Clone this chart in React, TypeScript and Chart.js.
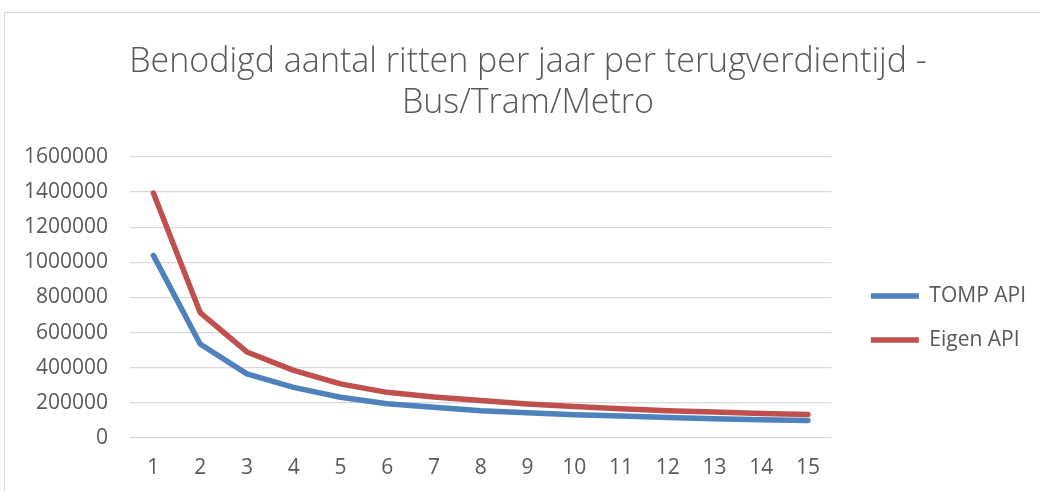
import React, { useEffect, useRef } from "react";
import { Chart, registerables } from "chart.js";

Chart.register(...registerables);

const categories = ["1", "2", "3", "4", "5", "6", "7", "8", "9", "10", "11", "12", "13", "14", "15"];
const tompApi = [1040000, 535000, 365000, 288000, 232000, 195000, 175000, 155000, 144000, 133000, 125000, 117000, 110000, 104000, 100000];
const eigenApi = [1395000, 714000, 490000, 385000, 308000, 260000, 233000, 213000, 194000, 180000, 167000, 155000, 148000, 140000, 134000];
const titleLines = ["Benodigd aantal ritten per jaar per terugverdientijd -", "Bus/Tram/Metro"];
const seriesNames = ["TOMP API", "Eigen API"];

const TEXT = "#595959";
const GRID = "#d9d9d9";
const FONT = "'Open Sans', sans-serif";

export default function App() {
  const ref = useRef<HTMLCanvasElement | null>(null);

  useEffect(() => {
    let chart: Chart | null = null;
    let cancelled = false;
    const build = () => {
      if (cancelled || !ref.current) return;
      chart = new Chart(ref.current, {
        type: "line",
        data: {
          labels: categories,
          datasets: [
            {
              label: seriesNames[0],
              data: tompApi,
              borderColor: "#4F81BD",
              backgroundColor: "#4F81BD",
              borderWidth: 5.5,
              borderCapStyle: "round",
              borderJoinStyle: "round",
              pointRadius: 0,
              tension: 0,
            },
            {
              label: seriesNames[1],
              data: eigenApi,
              borderColor: "#C0504D",
              backgroundColor: "#C0504D",
              borderWidth: 5.5,
              borderCapStyle: "round",
              borderJoinStyle: "round",
              pointRadius: 0,
              tension: 0,
            },
          ],
        },
        options: {
          responsive: false,
          animation: false,
          layout: { padding: { left: 15, right: 11, top: 0, bottom: 10 } },
          plugins: {
            title: {
              display: true,
              text: titleLines,
              color: TEXT,
              font: { family: FONT, size: 34, weight: 300, lineHeight: 41 / 34 },
              padding: { top: 28.5, bottom: 33.5 },
            },
            legend: {
              position: "right",
              align: "center",
              fullSize: false,
              maxWidth: 400,
              title: { display: true, text: " ", font: { size: 15, lineHeight: 1 }, padding: 13 },
              labels: {
                usePointStyle: true,
                pointStyle: "line",
                pointStyleWidth: 48,
                padding: 23,
                color: TEXT,
                font: { family: FONT, size: 21 },
              },
            },
            tooltip: { enabled: false },
          },
          scales: {
            x: {
              type: "category",
              offset: true,
              grid: { display: false, drawTicks: false },
              border: { display: false },
              ticks: { color: TEXT, font: { family: FONT, size: 21 }, padding: 17, maxRotation: 0 },
              afterFit: (s: any) => {
                s.height = 43;
              },
            },
            y: {
              type: "linear",
              min: 0,
              max: 1600000,
              grid: { color: GRID, lineWidth: 1.3, drawTicks: false },
              border: { display: false },
              ticks: {
                stepSize: 200000,
                color: TEXT,
                font: { family: FONT, size: 21 },
                padding: 22,
                callback: (v: any) => String(v),
              },
              afterFit: (s: any) => {
                s.width = 110;
              },
            },
            gap: {
              type: "linear",
              position: "right",
              display: true,
              grid: { display: false, drawTicks: false },
              border: { display: false },
              ticks: { display: false },
              afterFit: (s: any) => {
                s.width = 16.5;
              },
            },
          },
        },
      } as any);
    };
    const fontsApi = (document as any).fonts;
    if (fontsApi && fontsApi.load) {
      Promise.all([
        fontsApi.load("21px 'Open Sans'"),
        fontsApi.load("300 34px 'Open Sans'"),
      ])
        .catch(() => null)
        .then(build);
    } else {
      build();
    }
    return () => {
      cancelled = true;
      if (chart) chart.destroy();
    };
  }, []);

  return (
    <div style={{ position: "fixed", left: 0, top: 0, width: "100vw", height: "100vh", overflow: "hidden", background: "#fff" }}>
      <div
        style={{
          position: "absolute",
          left: 4,
          top: 12,
          width: 1042,
          height: 490,
          border: "1px solid " + GRID,
        }}
      >
        <canvas ref={ref} width={1042} height={478} style={{ display: "block" }} />
      </div>
    </div>
  );
}
